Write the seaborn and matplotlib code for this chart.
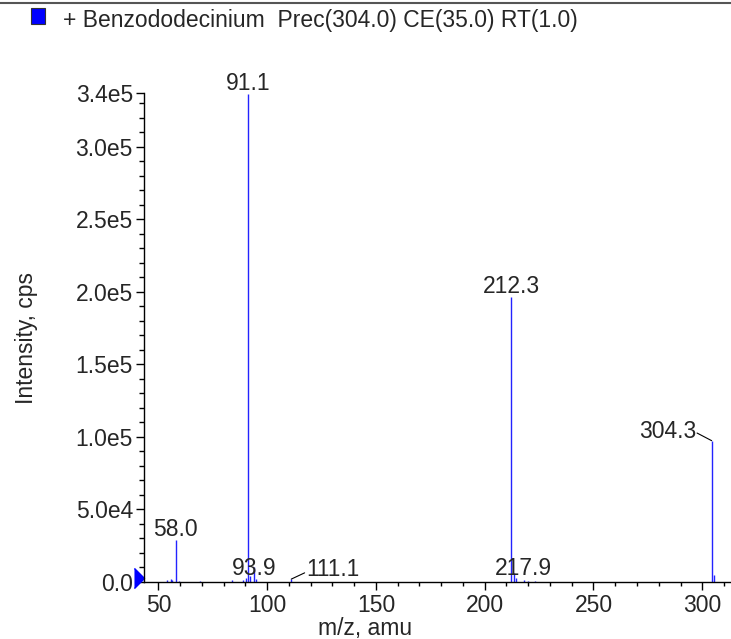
import numpy as np
import matplotlib
matplotlib.use("Agg")
import matplotlib.pyplot as plt
import matplotlib.transforms as mtransforms
from matplotlib.ticker import MultipleLocator, FixedLocator, FuncFormatter
from matplotlib.patches import Rectangle
from matplotlib.lines import Line2D
import seaborn as sns

# Product ion spectrum: m/z and intensity (cps)
mz = [54.1, 55.6, 56.4, 58.0, 59.5, 69.2, 83.8, 88.7, 90.2, 91.1, 92.1, 93.9,
      94.8, 111.1, 212.3, 213.3, 214.3, 217.9, 220.0, 223.3, 304.3, 305.6]
intensity = [1200, 2000, 1500, 29000, 800, 1000, 1200, 1500, 2500, 336000, 4000, 10500,
             2000, 2000, 196500, 6000, 2500, 1500, 800, 800, 97400, 4800]

# peaks that carry a label
labelled = [58.0, 91.1, 93.9, 111.1, 212.3, 217.9, 304.3]

title = "+ Benzododecinium  Prec(304.0) CE(35.0) RT(1.0)"
x_range = (43.4, 313.2)
y_max = 3.37e5

sns.set_style("ticks")
plt.rcParams['font.family'] = ['Liberation Sans', 'DejaVu Sans']
FS = 16.5

fig = plt.figure(figsize=(7.31, 6.39), dpi=100)
ax = fig.add_axes([144 / 731, 57 / 639, 1 - 144 / 731, (582 - 93) / 639])

blue = "#2323ff"
ax.vlines(mz, 0, intensity, color=blue, lw=1.0)

ax.set_xlim(*x_range)
ax.set_ylim(0, y_max)

# axis ticks
ax.xaxis.set_major_locator(MultipleLocator(50))
ax.xaxis.set_minor_locator(MultipleLocator(10))
ax.yaxis.set_major_locator(FixedLocator(list(np.arange(0, 3.01e5, 5e4)) + [y_max]))
ax.yaxis.set_minor_locator(MultipleLocator(1e4))


def sci(v, pos):
    if v == 0:
        return "0.0"
    e = int(np.floor(np.log10(v)))
    return f"{v / 10 ** e:.1f}e{e}"


ax.yaxis.set_major_formatter(FuncFormatter(sci))
ax.tick_params(axis='both', which='major', labelsize=FS, color='black', width=1)
ax.tick_params(axis='x', which='major', length=5.5, pad=3)
ax.tick_params(axis='x', which='minor', length=3, width=1, color='black')
ax.tick_params(axis='y', which='major', length=6, pad=2)
ax.tick_params(axis='y', which='minor', length=3.5, width=1, color='black')

sns.despine(ax=ax)
for s in ['left', 'bottom']:
    ax.spines[s].set_color('black')
    ax.spines[s].set_linewidth(1)

ax.set_xlabel("m/z, amu", fontsize=FS)
ax.xaxis.set_label_coords(0.5, 1 - 617 / 639, transform=fig.transFigure)
ax.set_ylabel("Intensity, cps", fontsize=FS)
ax.yaxis.set_label_coords(38 / 731, 1 - 338 / 639, transform=fig.transFigure)

# peak labels
height = dict(zip(mz, intensity))
for m in labelled:
    txt = f"{m:.1f}"
    h = height[m]
    if m == 111.1:
        ax.annotate(txt, xy=(m, h), xytext=(11, 2), textcoords='offset points',
                    ha='left', va='baseline', fontsize=16.4, family='Liberation Sans')
        ax.annotate("", xy=(m, h), xytext=(9.6, 4.5), textcoords='offset points',
                    arrowprops=dict(arrowstyle='-', lw=0.8, color='black',
                                    shrinkA=0, shrinkB=0))
    elif m == 304.3:
        ax.annotate(txt, xy=(m, h), xytext=(-11, 1.8), textcoords='offset points',
                    ha='right', va='baseline', fontsize=FS)
        ax.annotate("", xy=(m, h), xytext=(-10.5, 5.5), textcoords='offset points',
                    arrowprops=dict(arrowstyle='-', lw=0.8, color='black',
                                    shrinkA=0, shrinkB=0))
    elif h < 2e4:
        ax.annotate(txt, xy=(m, 0), xytext=(0, 5), textcoords='offset points',
                    ha='center', va='baseline', fontsize=FS)
    else:
        ax.annotate(txt, xy=(m, h), xytext=(0, 3), textcoords='offset points',
                    ha='center', va='baseline', fontsize=FS)

# blue pointer at the origin
tri = [(-0.5, -1), (0.5, 0), (-0.5, 1)]
tr = mtransforms.offset_copy(ax.transData, fig=fig, x=-5, y=4, units='dots')
ax.plot([x_range[0]], [0], marker=tri, ms=14.5, color='#0000ff', mec='#0000ff',
        transform=tr, clip_on=False)

# header: frame line, legend swatch and trace title
fig.add_artist(Line2D([0, 1], [1 - 3 / 639, 1 - 3 / 639], color='#555555', lw=1.5,
                      transform=fig.transFigure))
fig.add_artist(Rectangle((31 / 731, 1 - 24 / 639), 14 / 731, 16 / 639,
                         facecolor='#0000ff', edgecolor='#333333', lw=0.8,
                         transform=fig.transFigure))
fig.text(63 / 731, 1 - 27 / 639, title, fontsize=FS, va='baseline')

fig.savefig("out.png", dpi=100)
